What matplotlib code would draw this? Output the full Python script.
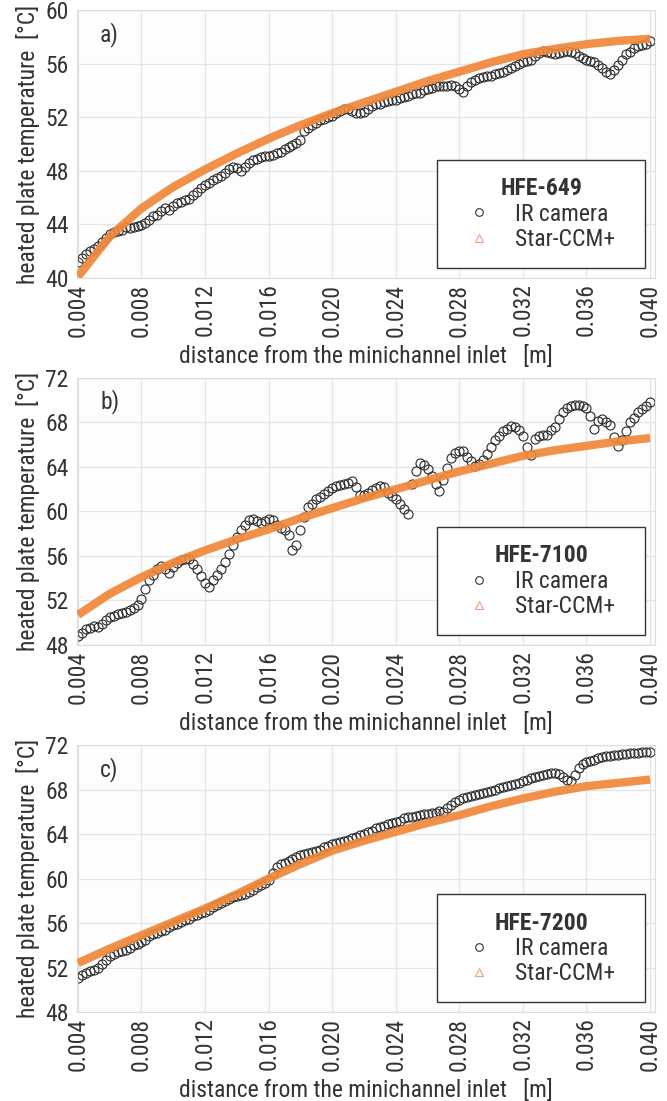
import numpy as np
import matplotlib
matplotlib.use('Agg')
import matplotlib.pyplot as plt
from matplotlib.lines import Line2D
from matplotlib.patches import Rectangle

plt.rcParams['font.family'] = ['Roboto Condensed', 'Liberation Sans', 'DejaVu Sans']

# measurement positions along the channel [m]
ir_x = np.arange(145) * 0.00025 + 0.004
sim_x = [0.004, 0.006, 0.008, 0.010, 0.012, 0.014, 0.016, 0.018, 0.020, 0.022,
         0.024, 0.026, 0.028, 0.030, 0.032, 0.034, 0.036, 0.038, 0.040]

# HFE-649
ir_649 = [41.2, 41.5, 41.8, 42.0, 42.2, 42.4, 42.7, 43.0, 43.3, 43.4, 43.5, 43.6,
          43.8, 43.7, 43.8, 43.9, 43.95, 44.1, 44.3, 44.6, 44.7, 45.0, 45.2, 45.1,
          45.4, 45.6, 45.7, 45.8, 45.9, 46.2, 46.4, 46.7, 46.95, 47.1, 47.3, 47.5,
          47.6, 47.8, 48.1, 48.3, 48.2, 48.0, 48.3, 48.6, 48.8, 48.9, 49.0, 49.1,
          49.1, 49.2, 49.3, 49.4, 49.6, 49.8, 49.9, 50.1, 50.3, 51.0, 51.2, 51.4,
          51.6, 51.8, 51.9, 52.0, 52.1, 52.3, 52.5, 52.6, 52.6, 52.5, 52.3, 52.3,
          52.4, 52.6, 52.8, 52.95, 53.0, 53.1, 53.2, 53.3, 53.3, 53.4, 53.5, 53.6,
          53.7, 53.8, 53.8, 54.0, 54.1, 54.2, 54.3, 54.3, 54.3, 54.3, 54.4, 54.3,
          54.1, 53.9, 54.3, 54.6, 54.8, 54.9, 55.0, 55.1, 55.1, 55.2, 55.3, 55.4,
          55.5, 55.7, 55.8, 56.0, 56.1, 56.2, 56.3, 56.6, 56.8, 56.95, 56.9, 56.8,
          56.7, 56.8, 56.9, 56.95, 56.9, 56.8, 56.6, 56.4, 56.3, 56.2, 56.1, 55.9,
          55.7, 55.4, 55.2, 55.5, 55.9, 56.3, 56.7, 56.9, 57.2, 57.3, 57.4, 57.5,
          57.7]
sim_649 = [40.1, 43.1, 45.2, 46.8, 48.1, 49.3, 50.4, 51.4, 52.3, 53.1,
           53.9, 54.7, 55.4, 56.1, 56.7, 57.1, 57.45, 57.7, 57.85]

# HFE-7100
ir_7100 = [48.8, 49.1, 49.4, 49.5, 49.7, 49.6, 49.9, 50.2, 50.5, 50.6, 50.8, 50.9,
           51.0, 51.1, 51.3, 51.6, 52.1, 53.0, 53.8, 54.3, 54.8, 55.1, 54.8, 54.5,
           55.0, 55.4, 55.6, 55.7, 55.7, 55.3, 54.8, 54.2, 53.6, 53.2, 53.8, 54.3,
           54.8, 55.5, 56.2, 57.0, 57.7, 58.3, 58.8, 59.2, 59.3, 59.1, 59.0, 59.1,
           59.3, 59.2, 58.8, 58.5, 58.3, 57.9, 56.5, 57.0, 58.3, 59.5, 60.4, 60.7,
           61.1, 61.3, 61.6, 61.8, 62.1, 62.3, 62.4, 62.5, 62.6, 62.7, 62.2, 61.5,
           61.5, 61.7, 61.9, 62.1, 62.3, 62.2, 61.7, 61.4, 61.1, 60.7, 60.2, 59.8,
           62.5, 63.6, 64.4, 64.2, 63.8, 63.2, 62.5, 61.8, 62.8, 63.9, 64.8, 65.3,
           65.4, 65.4, 64.9, 64.5, 64.1, 64.3, 64.6, 65.2, 65.8, 66.4, 66.8, 67.2,
           67.4, 67.7, 67.6, 67.3, 66.8, 65.8, 65.1, 66.5, 66.8, 66.9, 66.9, 67.3,
           67.6, 68.3, 68.9, 69.3, 69.5, 69.6, 69.6, 69.5, 69.3, 68.6, 67.4, 68.1,
           68.3, 68.0, 67.8, 66.7, 65.9, 66.4, 67.2, 68.0, 68.4, 68.9, 69.2, 69.5,
           69.8]
sim_7100 = [50.7, 52.6, 54.1, 55.4, 56.5, 57.5, 58.4, 59.4, 60.3, 61.2,
            62.0, 62.8, 63.6, 64.3, 65.0, 65.5, 65.9, 66.3, 66.6]

# HFE-7200
ir_7200 = [51.1, 51.3, 51.5, 51.7, 51.8, 52.0, 52.3, 52.7, 53.0, 53.2, 53.4, 53.5,
           53.6, 53.8, 54.0, 54.1, 54.3, 54.5, 54.8, 55.0, 55.1, 55.3, 55.4, 55.6,
           55.8, 55.9, 56.1, 56.3, 56.4, 56.6, 56.7, 56.9, 57.0, 57.2, 57.4, 57.6,
           57.8, 58.0, 58.2, 58.3, 58.4, 58.5, 58.6, 58.8, 59.0, 59.2, 59.4, 59.6,
           59.9, 60.5, 61.0, 61.3, 61.4, 61.6, 61.8, 61.9, 62.1, 62.2, 62.3, 62.4,
           62.5, 62.6, 62.8, 62.9, 63.1, 63.2, 63.3, 63.4, 63.5, 63.6, 63.7, 63.9,
           64.0, 64.2, 64.3, 64.5, 64.6, 64.7, 64.9, 65.0, 65.1, 65.2, 65.4, 65.5,
           65.5, 65.6, 65.7, 65.8, 65.8, 65.9, 65.9, 66.1, 66.0, 66.3, 66.6, 66.9,
           67.05, 67.2, 67.3, 67.4, 67.5, 67.6, 67.7, 67.8, 67.9, 68.0, 68.1, 68.2,
           68.3, 68.4, 68.5, 68.6, 68.8, 68.9, 69.0, 69.1, 69.2, 69.3, 69.4, 69.5,
           69.5, 69.4, 69.1, 68.9, 68.8, 69.3, 69.9, 70.3, 70.5, 70.6, 70.7, 70.8,
           70.9, 71.0, 71.0, 71.1, 71.1, 71.2, 71.2, 71.3, 71.3, 71.3, 71.4, 71.4,
           71.4]
sim_7200 = [52.4, 53.7, 54.9, 56.1, 57.3, 58.6, 60.0, 61.3, 62.5, 63.4,
            64.2, 65.0, 65.7, 66.5, 67.2, 67.8, 68.3, 68.6, 68.9]

fluids = ['HFE-649', 'HFE-7100', 'HFE-7200']
panel_tags = ['a)', 'b)', 'c)']
ir_data = [ir_649, ir_7100, ir_7200]
sim_data = [sim_649, sim_7100, sim_7200]
y_ranges = [(40, 60), (48, 72), (48, 72)]
x_ticks = [0.004, 0.008, 0.012, 0.016, 0.020, 0.024, 0.028, 0.032, 0.036, 0.040]

txt = '#333333'
orange = '#f0883a'
fs = 17

fig = plt.figure(figsize=(6.67, 11.01), dpi=100)
boxes = [(0.1154, 0.7475, 0.8666, 0.2434),
         (0.1154, 0.4142, 0.8666, 0.2425),
         (0.1154, 0.0808, 0.8666, 0.2425)]

for i, box in enumerate(boxes):
    ax = fig.add_axes(box)
    ax.set_facecolor('#fdfdfd')
    ax.plot(ir_x, ir_data[i], ls='none', marker='o', ms=6.5, mfc='none',
            mec='#2a2a2a', mew=0.8, zorder=2)
    ax.plot(sim_x, sim_data[i], color=orange, lw=6, alpha=0.92,
            solid_capstyle='butt', zorder=3)
    lo, hi = y_ranges[i]
    ax.set_ylim(lo, hi)
    ax.set_yticks(np.arange(lo, hi + 1, 4))
    ax.set_xlim(0.00394, 0.04031)
    ax.set_xticks(x_ticks)
    ax.set_xticklabels(['%.3f' % v for v in x_ticks], rotation=90)
    ax.tick_params(length=0, labelsize=fs, colors=txt)
    ax.tick_params(axis='x', pad=4)
    ax.tick_params(axis='y', pad=6)
    ax.grid(True, color='#e4e4e4', lw=0.9)
    ax.set_axisbelow(True)
    for sp in ax.spines.values():
        sp.set_color('#dcdcdc')
        sp.set_linewidth(0.8)
    ax.set_xlabel('distance from the minichannel inlet   [m]', fontsize=fs,
                  color=txt, labelpad=6)
    ax.set_ylabel('heated plate temperature  [\u00b0C]', fontsize=fs,
                  color=txt, labelpad=4)
    ax.text(0.04, 0.91, panel_tags[i], transform=ax.transAxes, fontsize=fs,
            color=txt, ha='left', va='center')

    # legend box
    ax.add_patch(Rectangle((0.623, 0.036), 0.36, 0.405, transform=ax.transAxes,
                           facecolor='white', edgecolor='#333333', lw=1.0,
                           zorder=5))
    handles = [Line2D([], [], ls='none', marker='o', ms=5.5, mfc='none',
                      mec='#333333', mew=0.8),
               Line2D([], [], ls='none', marker='^', ms=5.5, mfc='none',
                      mec='#e8a07a', mew=0.8)]
    leg = ax.legend(handles, ['IR camera', 'Star-CCM+'], title=fluids[i],
                    loc='center', bbox_to_anchor=(0.803, 0.2385),
                    frameon=False, fontsize=fs, handlelength=1.0,
                    handletextpad=1.0, labelspacing=0.1, borderpad=0)
    leg.get_title().set_fontweight('bold')
    leg.get_title().set_fontsize(fs)
    leg.get_title().set_color(txt)
    for t in leg.get_texts():
        t.set_color(txt)
    leg.set_zorder(6)

fig.savefig('out.png', dpi=100)
